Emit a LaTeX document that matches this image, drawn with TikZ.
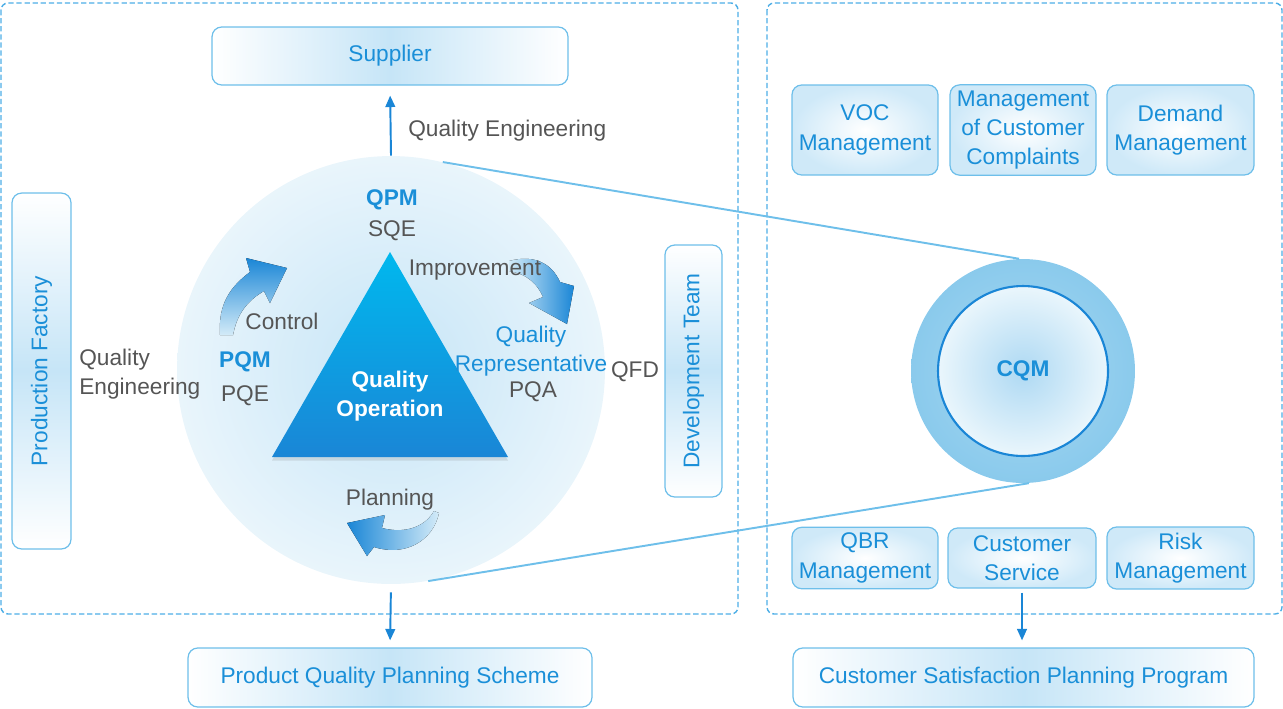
\documentclass[tikz,border=0pt]{standalone}
\usepackage{fontspec}
\setmainfont{Liberation Sans}
\usepackage{tikz}
\usetikzlibrary{arrows.meta,positioning,shadows}
\definecolor{qblue}{HTML}{1A8FD8}
\definecolor{qdark}{HTML}{1A86D6}
\definecolor{qcyan}{HTML}{00B8EE}
\definecolor{qline}{HTML}{6EBFEA}
\definecolor{qdash}{HTML}{4DAEE6}
\definecolor{qgray}{HTML}{555555}
\definecolor{qpale}{HTML}{C6E5F7}
\definecolor{qhalo}{HTML}{D3EBF8}
\definecolor{qringin}{HTML}{A8D8F3}
\definecolor{qringout}{HTML}{8ACAEC}
\definecolor{qcorein}{HTML}{AED9F3}
\definecolor{qcoreout}{HTML}{EAF6FC}
\newcommand\qfont{\fontsize{12.9}{16.6}\selectfont}
\tikzset{
  panel/.style={
    draw=qdash,
    dashed,
    dash pattern=on 3pt off 1.6pt,
    line width=0.8pt,
    rounded corners=4pt
  },
  hbox/.style={
    rounded corners=5.5pt,
    draw=qline,
    line width=0.7pt,
    left color=white,
    right color=white,
    middle color=qpale,
    text=qblue,
    align=center,
    font=\qfont
  },
  vbox/.style={
    hbox,
    top color=white,
    bottom color=white,
    middle color=qpale
  },
  softbox/.style={
    rounded corners=5.5pt,
    draw=qline,
    line width=0.7pt,
    inner color=white,
    outer color=qpale!85,
    text=qblue,
    align=center,
    font=\qfont
  },
  graytext/.style={text=qgray, font=\qfont, align=center},
  bluetext/.style={text=qblue, font=\qfont, align=center},
  bluebold/.style={text=qblue, font=\qfont\bfseries},
  flow/.style={
    -{Triangle[length=6.5pt,width=5.5pt]},
    draw=qdark,
    line width=1.1pt
  },
  tangent/.style={draw=qline, line width=1.1pt}
}

\begin{document}
\begin{tikzpicture}[x=0.02cm, y=-0.02cm]
\useasboundingbox (0,0) rectangle (1283,708);

% dashed panels
\draw[panel] (1,3) rectangle (738,614);
\draw[panel] (767,3) rectangle (1282,614);

% quality operation circle
\node[circle, minimum size=8.56cm, inner color=qpale, outer color=qhalo!50] (bigc) at (391,370) {};
\fill[top color=qdark, bottom color=qhalo] (220,335) .. controls (218,304) and (230,287) .. (250,272)
  -- (246,258) -- (287,268) -- (270,303) -- (264,291) .. controls (247,301) and (237,314) .. (233,335) -- cycle;
\fill[left color=qhalo, right color=qdark] (509,261) .. controls (535,254) and (552,264) .. (560,282)
  -- (574,286) -- (567,324) -- (529,303) -- (543,297) .. controls (538,285) and (528,274) .. (509,271) -- cycle;
\fill[left color=qdark, right color=qhalo] (347,523) -- (385,515) -- (382,528) .. controls (405,534) and (425,527) .. (434,511)
  -- (439,513) .. controls (433,541) and (405,557) .. (374,547) -- (367,556) -- cycle;
\shade[top color=qcyan, bottom color=qdark, drop shadow={opacity=0.2, shadow xshift=0pt, shadow yshift=-2pt}]
  (390,252) -- (508,457) -- (272,457) -- cycle;
\node[font=\qfont\bfseries, text=white, align=center] (qop) at (390,396.5) {Quality\\Operation};

\node[bluebold] (qpm) at (392,199.5) {QPM};
\node[graytext] (sqe) at (392,230.5) {SQE};
\node[graytext] (impr) at (475,270) {Improvement};
\node[graytext] (ctrl) at (282,321) {Control};
\node[bluebold] (pqm) at (245,362) {PQM};
\node[graytext] (pqe) at (245,396) {PQE};
\node[bluetext] (qrep) at (531,351) {Quality\\Representative};
\node[graytext] (pqa) at (533,392) {PQA};
\node[graytext] (qfd) at (635,372) {QFD};
\node[graytext] (plan) at (390,500) {Planning};

% left side boxes
\node[hbox, minimum width=7.12cm, minimum height=1.16cm] (sup) at (390,56) {Supplier};
\node[vbox, minimum width=1.18cm, minimum height=7.12cm] (fac) at (41.5,371) {};
\node[bluetext, rotate=90] (factxt) at (fac) {Production Factory};
\node[vbox, minimum width=1.14cm, minimum height=5.04cm] (dev) at (693.5,371) {};
\node[bluetext, rotate=90] (devtxt) at (dev) {Development Team};
\node[hbox, minimum width=8.08cm, minimum height=1.18cm] (pqps) at (390,677.5) {Product Quality Planning Scheme};
\node[graytext, anchor=west, inner sep=0pt] (qeng) at (408,131) {Quality Engineering};
\node[graytext, anchor=west, align=left, inner sep=0pt] (qengl) at (79,374) {Quality\\Engineering};

\draw[flow, shorten >=0.2cm] (bigc.north) -- (sup.south);
\draw[flow, shorten <=0.16cm, shorten >=0.14cm] (bigc.south) -- (pqps.north);

% customer quality management
\node[circle, minimum size=4.48cm, inner color=qringin, outer color=qringout] (cqmo) at (1023,371) {};
\node[circle, minimum size=3.4cm, draw=qdark, line width=1.2pt, inner color=qcorein, outer color=qcoreout,
  text=qblue, font=\qfont\bfseries] (cqm) at (1023,371) {CQM};
\draw[tangent] (bigc.76) -- (cqmo.92);
\draw[tangent] (bigc.-80) -- (cqmo.-87);

\node[softbox, minimum width=2.92cm, minimum height=1.8cm] (voc) at (865,130) {VOC\\Management};
\node[softbox, minimum width=2.92cm, minimum height=1.8cm] (mcc) at (1023,130) {Management\\of Customer\\Complaints};
\node[softbox, minimum width=2.94cm, minimum height=1.8cm] (dem) at (1180.5,130) {Demand\\Management};
\node[softbox, minimum width=2.92cm, minimum height=1.2cm] (qbr) at (865,558) {QBR\\Management};
\node[softbox, minimum width=2.96cm, minimum height=1.2cm] (cs) at (1022,558) {Customer\\Service};
\node[softbox, minimum width=2.94cm, minimum height=1.2cm] (risk) at (1180.5,558) {Risk\\Management};
\node[hbox, minimum width=9.22cm, minimum height=1.18cm] (cspp) at (1023.5,677.5) {Customer Satisfaction Planning Program};
\draw[flow, shorten <=0.08cm, shorten >=0.14cm] (cs.south) -- (cs.south |- cspp.north);
\end{tikzpicture}
\end{document}
